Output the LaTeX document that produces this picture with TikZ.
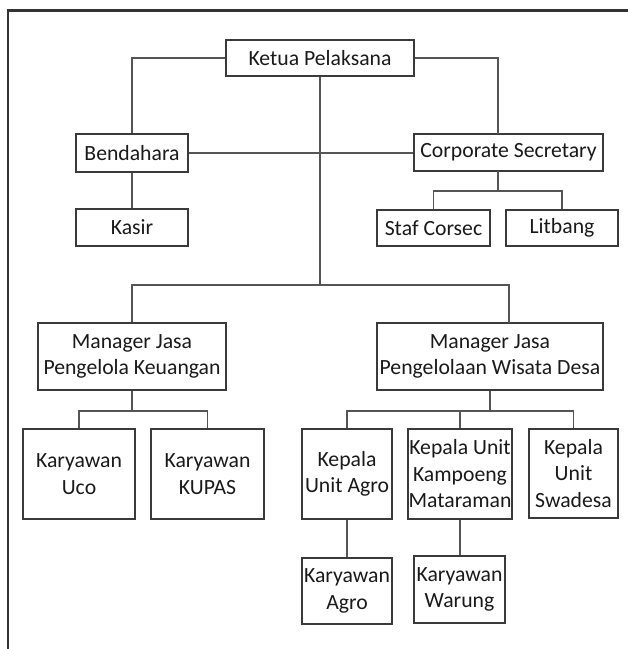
\documentclass[tikz,border=0pt]{standalone}
\usepackage{fontspec}
\setmainfont{Carlito}
\usepackage{xcolor}
\usetikzlibrary{positioning,calc}

\definecolor{framegray}{HTML}{333333}
\definecolor{boxgray}{HTML}{3A3A3A}
\definecolor{linkgray}{HTML}{555555}
\definecolor{textgray}{HTML}{1A1A1A}

\begin{document}
\begin{tikzpicture}[
  x=1pt, y=-1pt,
  unit/.style={rectangle, draw=boxgray, line width=1.1pt, fill=white,
    inner sep=0pt, align=center, text=textgray,
    font=\fontsize{21.7}{26.5}\selectfont},
  link/.style={draw=linkgray, line width=1.1pt},
  frameline/.style={draw=framegray, line width=2.2pt},
]
  \useasboundingbox (0,0) rectangle (628,649);

  % frame
  \draw[frameline] (8,649) -- (8,10.5) -- (628,10.5);

  % top level
  \node[unit, minimum width=188pt, minimum height=36pt] (ketua) at (320,58) {Ketua Pelaksana};
  \node[unit, minimum width=112pt, minimum height=38pt] (bendahara) at (132,153) {Bendahara};
  \node[unit, minimum width=189pt, minimum height=37pt] (corsec) at (508.5,152.5) {Corporate Secretary};
  \node[unit, minimum width=112pt, minimum height=37pt] (kasir) at (132,227.5) {Kasir};
  \node[unit, minimum width=113pt, minimum height=36pt] (staf) at (433.5,228) {Staf Corsec};
  \node[unit, minimum width=112pt, minimum height=36pt] (litbang) at (562,228) {Litbang};

  % managers
  \node[unit, minimum width=188pt, minimum height=67pt] (mgrkeu) at (132,356.5) {Manager Jasa\\Pengelola Keuangan};
  \node[unit, minimum width=226pt, minimum height=67pt] (mgrwis) at (490,356.5) {Manager Jasa\\Pengelolaan Wisata Desa};

  % units
  \node[unit, minimum width=112pt, minimum height=90pt] (uco) at (79,474) {Karyawan\\Uco};
  \node[unit, minimum width=113pt, minimum height=90pt] (kupas) at (207.5,474) {Karyawan\\KUPAS};
  \node[unit, minimum width=90pt, minimum height=90pt] (agro) at (347,474) {Kepala\\Unit Agro};
  \node[unit, minimum width=104pt, minimum height=90pt] (kampoeng) at (460,474) {Kepala Unit\\Kampoeng\\Mataraman};
  \node[unit, minimum width=89pt, minimum height=89pt] (swadesa) at (573.5,473.5) {Kepala\\Unit\\Swadesa};
  \node[unit, minimum width=90pt, minimum height=66pt] (karagro) at (347,591) {Karyawan\\Agro};
  \node[unit, minimum width=91pt, minimum height=67pt] (warung) at (459.5,589.5) {Karyawan\\Warung};

  % junction points
  \coordinate (cstop) at (498,134);
  \coordinate (csbot) at (498,171);
  \coordinate (csbus) at (498,191);
  \coordinate (mainbus) at (320,285);
  \coordinate (mwtop) at (509,323);
  \coordinate (keubus) at (132,411);
  \coordinate (wisbus) at (490,411);

  % connectors
  \draw[link] (ketua.west) -| (bendahara.north);
  \draw[link] (ketua.east) -| (cstop);
  \draw[link] (bendahara.east) -- (bendahara.east -| corsec.west);
  \draw[link] (bendahara.south) -- (kasir.north);
  \draw[link] (csbot) -- (csbus);
  \draw[link] (staf.north) |- (csbus) -| (litbang.north);
  \draw[link] (ketua.south) -- (mainbus);
  \draw[link] (mgrkeu.north) |- (mainbus) -| (mwtop);
  \draw[link] (mgrkeu.south) -- (keubus);
  \draw[link] (uco.north) |- (keubus) -| (kupas.north);
  \draw[link] (mgrwis.south) -- (wisbus);
  \draw[link] (agro.north) |- (wisbus) -| (swadesa.north);
  \draw[link] (kampoeng.north) -- (kampoeng.north |- wisbus);
  \draw[link] (agro.south) -- (karagro.north);
  \draw[link] (kampoeng.south) -- (kampoeng.south |- warung.north);
\end{tikzpicture}
\end{document}
